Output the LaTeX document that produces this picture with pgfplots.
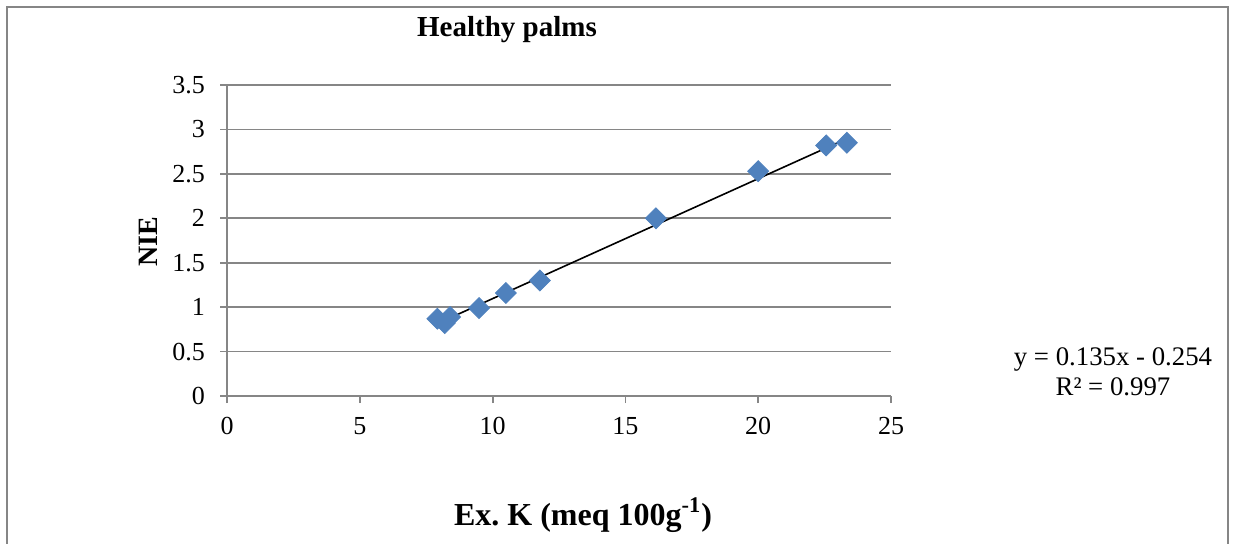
\documentclass[border=0pt]{standalone}
\usepackage{fontspec}
\setmainfont{Liberation Serif}
\usepackage{pgfplots}
\pgfplotsset{compat=1.18}
\definecolor{markblue}{RGB}{79,129,189}
\definecolor{framegray}{RGB}{134,134,134}
\begin{document}
\begin{tikzpicture}[x=1pt,y=1pt]
\useasboundingbox (0,0) rectangle (617.5,271.5);
\clip (0,0) rectangle (617.5,271.5);
\draw[framegray, line width=0.75pt] (3.5,-20) -- (3.5,268) -- (614,268) -- (614,-20);
\begin{axis}[
    at={(113.5pt,73.5pt)}, anchor=south west,
    scale only axis, width=332pt, height=155.5pt,
    xmin=0, xmax=25, ymin=0, ymax=3.5,
    xtick={0,5,10,15,20,25},
    ytick={0,0.5,1,1.5,2,2.5,3,3.5},
    axis x line=bottom, axis y line=left,
    axis line style={-, framegray, line width=0.9pt},
    tick align=outside, major tick length=3.5pt,
    tick style={framegray, line width=0.9pt},
    ymajorgrids, grid style={framegray, line width=0.9pt},
    /pgf/number format/assume math mode=true,
    ticklabel style={font=\fontsize{13}{15}\selectfont},
    yticklabel style={xshift=-4pt},
    xticklabel style={yshift=-3.5pt},
    clip=false,
]
\addplot[only marks, mark=square*, mark size=3.7pt,
    mark options={rotate=45, fill=markblue, draw=markblue}] coordinates {
    (7.92,0.87) (8.2,0.82) (8.4,0.89) (9.49,0.99) (10.5,1.16)
    (11.78,1.30) (16.15,2.00) (20.0,2.53) (22.56,2.82) (23.34,2.85)
};
\addplot[black, line width=0.8pt] coordinates {(7.92,0.815) (23.34,2.897)};
\end{axis}
\node[font=\fontsize{14.5}{16}\selectfont\bfseries] at (253.5,256.5) {Healthy palms};
\node[font=\fontsize{14}{16}\selectfont\bfseries, rotate=90] at (74,150.5) {NIE};
\node[font=\fontsize{16}{18}\selectfont\bfseries] at (291.5,14) {Ex.\ K (meq 100g\textsuperscript{-1})};
\node[font=\fontsize{13.4}{15}\selectfont, align=center, inner sep=0pt] at (556.5,85.5) {y = 0.135x - 0.254\\R² = 0.997};
\end{tikzpicture}
\end{document}
